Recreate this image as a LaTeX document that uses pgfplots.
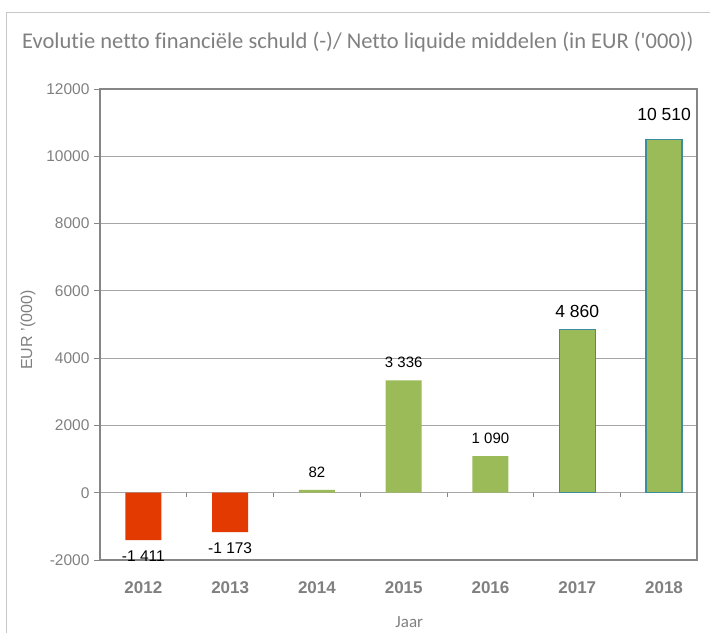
\documentclass[border=0pt]{standalone}
\usepackage{pgfplots}
\pgfplotsset{compat=1.18}
\usepackage{fontspec}
\setmainfont{Liberation Sans}
\newfontfamily\calibri[Ligatures=CommonOff]{Carlito}
\definecolor{negred}{RGB}{226,58,0}
\definecolor{posgreen}{RGB}{155,187,89}
\definecolor{edgeteal}{RGB}{60,140,160}
\definecolor{txtgray}{RGB}{128,128,128}
\definecolor{gridgray}{RGB}{166,166,166}
\definecolor{framegray}{RGB}{134,134,134}
\definecolor{bordergray}{RGB}{200,200,200}

\begin{document}
\begin{tikzpicture}
\begin{axis}[
  at={(100pt,-560pt)}, anchor=south west,
  scale only axis, width=597pt, height=471pt,
  xmin=-0.5, xmax=6.38, ymin=-2000, ymax=12000,
  ytick={-2000,0,2000,4000,6000,8000,10000,12000},
  scaled y ticks=false,
  xtick={0,...,6},
  xticklabels={2012,2013,2014,2015,2016,2017,2018},
  /pgf/number format/assume math mode=true,
  /pgf/number format/1000 sep={},
  grid=major, xmajorgrids=false,
  grid style={draw=gridgray, line width=1pt},
  axis line style={framegray, line width=1.3pt},
  ytick style={draw=framegray, line width=0.8pt},
  xtick style={/pgfplots/major tick length=0pt},
  ytick pos=left, xtick pos=lower, tick align=outside,
  major tick length=6pt,
  yticklabel style={font=\fontsize{15.5}{16}\selectfont, text=txtgray, xshift=-1pt},
  xticklabel style={font=\bfseries\fontsize{17}{18}\selectfont, text=txtgray, yshift=-12pt},
  xlabel={Jaar},
  xlabel style={font=\calibri\fontsize{17}{18}\selectfont, text=txtgray,
    at={(axis description cs:0.518,-0.132)}, anchor=center},
  ylabel={EUR '(000)},
  ylabel style={font=\fontsize{16}{17}\selectfont, text=txtgray,
    at={(axis description cs:-0.1206,0.488)}, anchor=center},
  ybar, bar shift=0pt, bar width=0.415,
  nodes near coords={\pgfmathprintnumber[1000 sep={\ }]{\pgfplotspointmeta}},
]
\addplot[fill=negred, draw=none,
  every node near coord/.append style={font=\fontsize{15.5}{16}\selectfont, yshift=-7pt}]
  coordinates {(0,-1411) (1,-1173)};
\addplot[fill=posgreen, draw=none,
  every node near coord/.append style={font=\fontsize{15}{16}\selectfont, yshift=9pt}]
  coordinates {(2,82) (3,3336) (4,1090)};
\addplot[fill=posgreen, draw=edgeteal, line width=1.2pt,
  every node near coord/.append style={font=\fontsize{17.5}{18}\selectfont, yshift=8pt}]
  coordinates {(5,4860)};
\addplot[fill=posgreen, draw=edgeteal, line width=1.2pt,
  every node near coord/.append style={font=\fontsize{17.5}{18}\selectfont, yshift=15pt}]
  coordinates {(6,10510)};
\pgfplotsinvokeforeach{0.5,1.5,2.5,3.5,4.5,5.5}{
  \draw[draw=framegray, line width=0.8pt] (axis cs:#1,0) -- (axis cs:#1,-120);
}
\end{axis}
\draw[bordergray, line width=1pt] (6pt,-633pt) -- (6pt,-12pt) -- (710pt,-12pt);
\node[anchor=west, font=\calibri\fontsize{22.5}{24}\selectfont, text=txtgray, inner sep=0pt]
  at (22pt,-42pt) {Evolutie netto financiële schuld (-)/ Netto liquide middelen (in EUR ('000))};
\pgfresetboundingbox
\path[use as bounding box] (0pt,0pt) rectangle (710pt,-633pt);
\end{tikzpicture}
\end{document}
